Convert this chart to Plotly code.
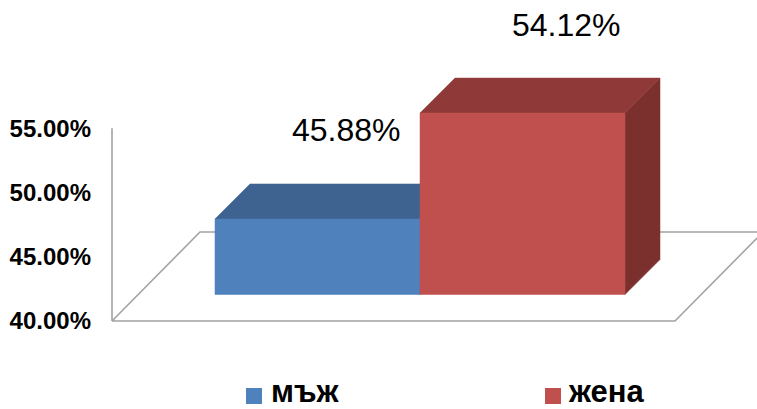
import plotly.graph_objects as go

categories = ["мъж", "жена"]
values = [45.88, 54.12]
value_labels = ["45.88%", "54.12%"]
tick_values = [40, 45, 50, 55]
tick_labels = ["40.00%", "45.00%", "50.00%", "55.00%"]

W, H = 757, 409
FONT = "Liberation Sans, Arial, sans-serif"
AXIS_BASE = 40
AXIS_TOP = 55
PX_PER_PCT = 12.85
PX_PER_CAT = 205.0
LEFT, BOTTOM = 112, 321            # pixel position of the axis corner
CAT0_PX = 317.5                    # pixel centre of the first category

FLOOR_RIGHT = (675 - CAT0_PX) / PX_PER_CAT
FLOOR_LEFT = (LEFT - CAT0_PX) / PX_PER_CAT
FLOOR_DX, FLOOR_DY = 88 / PX_PER_CAT, 89 / PX_PER_PCT
BAR_BASE = AXIS_BASE + 26.5 / PX_PER_PCT
DX, DY = 35 / PX_PER_CAT, 35 / PX_PER_PCT

front_colors = ["#4f81bd", "#c0504d"]
top_colors = ["#3e6390", "#8f3a39"]
side_colors = ["#3a5c86", "#7c302e"]
label_shift_x = [29, 44]
label_shift_y = [89, 88]

fig = go.Figure()


def poly(xs, ys, color, name):
    fig.add_trace(go.Scatter(x=xs, y=ys, mode="lines", fill="toself", fillcolor=color,
                             line=dict(color=color, width=0.5), name=name,
                             showlegend=False, hoverinfo="skip", cliponaxis=False))


# floor plane
fig.add_trace(go.Scatter(
    x=[FLOOR_LEFT, FLOOR_RIGHT, FLOOR_RIGHT + FLOOR_DX, FLOOR_LEFT + FLOOR_DX, FLOOR_LEFT],
    y=[AXIS_BASE, AXIS_BASE, AXIS_BASE + FLOOR_DY, AXIS_BASE + FLOOR_DY, AXIS_BASE],
    mode="lines", line=dict(color="#a3a3a3", width=1.6), showlegend=False,
    hoverinfo="skip", cliponaxis=False))
# wall line of the value axis
fig.add_trace(go.Scatter(
    x=[FLOOR_LEFT, FLOOR_LEFT], y=[AXIS_BASE, AXIS_TOP],
    mode="lines", line=dict(color="#a3a3a3", width=1.6), showlegend=False,
    hoverinfo="skip", cliponaxis=False))

for i, (cat, v) in enumerate(zip(categories, values)):
    x0, x1 = i - 0.5, i + 0.5
    top = BAR_BASE + (v - AXIS_BASE)
    poly([x1, x1 + DX, x1 + DX, x1, x1], [BAR_BASE, BAR_BASE + DY, top + DY, top, BAR_BASE],
         side_colors[i], cat + " side")
    poly([x0, x0 + DX, x1 + DX, x1, x0], [top, top + DY, top + DY, top, top],
         top_colors[i], cat + " top")
    poly([x0, x1, x1, x0, x0], [BAR_BASE, BAR_BASE, top, top, BAR_BASE],
         front_colors[i], cat)
    fig.add_annotation(x=i, y=top, text=value_labels[i], showarrow=False, xanchor="center",
                       yanchor="middle", xshift=label_shift_x[i], yshift=label_shift_y[i],
                       font=dict(family=FONT, size=32, color="#000000"))

# legend
legend_swatch_px = [246, 545]
legend_text_px = [271, 568]
for i, cat in enumerate(categories):
    fig.add_shape(type="rect", xref="paper", yref="paper",
                  x0=legend_swatch_px[i] / W, x1=(legend_swatch_px[i] + 16) / W,
                  y0=1 - 404 / H, y1=1 - 388 / H,
                  line=dict(width=0), fillcolor=front_colors[i])
    fig.add_annotation(xref="paper", yref="paper", x=legend_text_px[i] / W, y=1 - 391.5 / H,
                       text="<b>%s</b>" % cat, showarrow=False, xanchor="left", yanchor="middle",
                       xshift=-2,
                       font=dict(family=FONT, size=31, color="#000000"))

fig.update_layout(
    width=W, height=H, margin=dict(l=0, r=0, t=0, b=0, pad=0),
    paper_bgcolor="white", plot_bgcolor="white", showlegend=False,
    xaxis=dict(domain=[0, 1],
               range=[(0 - CAT0_PX) / PX_PER_CAT, (W - CAT0_PX) / PX_PER_CAT],
               visible=False, fixedrange=True),
    yaxis=dict(domain=[0, 1], anchor="free", position=LEFT / W, side="left",
               range=[AXIS_BASE - (H - BOTTOM) / PX_PER_PCT, AXIS_BASE + BOTTOM / PX_PER_PCT],
               tickmode="array", tickvals=tick_values,
               ticktext=["<b>%s</b>" % t for t in tick_labels],
               tickfont=dict(family=FONT, size=24, color="#000000"),
               showline=False, showgrid=False, automargin=False,
               zeroline=False, ticks="", ticklabelstandoff=21, fixedrange=True),
)

fig.write_html("out.html", config={"displayModeBar": False},
               post_script="document.body.style.margin='0';document.body.style.overflow='hidden';")
